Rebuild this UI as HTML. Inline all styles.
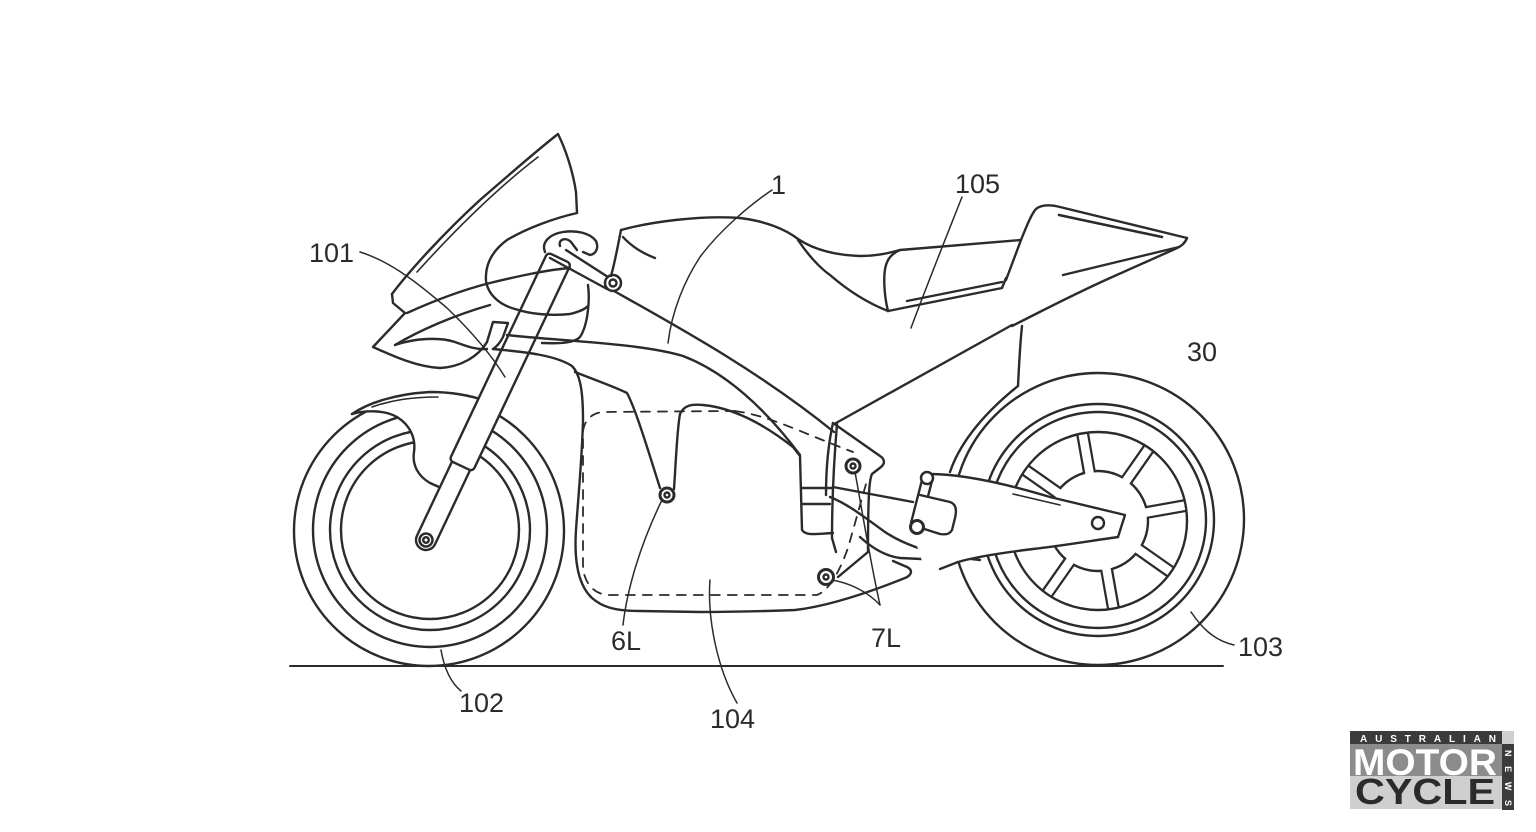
<!DOCTYPE html>
<html><head><meta charset="utf-8"><style>
html,body{margin:0;padding:0;background:#fff;}
svg{display:block;}
text{font-family:"Liberation Sans",sans-serif;}
</style></head><body>
<svg width="1536" height="832" viewBox="0 0 1536 832" xmlns="http://www.w3.org/2000/svg">
<defs><clipPath id="rim"><circle cx="0" cy="0" r="89"/></clipPath></defs>
<rect width="1536" height="832" fill="#fff"/>
<g fill="none" stroke="#2b2b2b" stroke-width="2.4" stroke-linecap="round" stroke-linejoin="round">
<!-- ground -->
<path d="M290,666 L1223,666" stroke-width="2"/>

<!-- rear wheel -->
<circle cx="1098" cy="519" r="146"/>
<circle cx="1098" cy="520" r="116"/>
<circle cx="1098" cy="520" r="108"/>
<g transform="translate(1098,521)">
 <g clip-path="url(#rim)">
  <g stroke-width="13" stroke-linecap="butt">
   <path d="M0,0 L-17.4,-98.5 M0,0 L57.4,-81.9 M0,0 L98.5,-17.4 M0,0 L81.9,57.4 M0,0 L17.4,98.5 M0,0 L-57.4,81.9 M0,0 L-98.5,17.4 M0,0 L-81.9,-57.4"/>
  </g>
  <circle cx="0" cy="0" r="50" fill="#fff"/>
  <g stroke="#fff" stroke-width="8.5" stroke-linecap="butt">
   <path d="M-8.3,-47.3 L-17.4,-98.5 M27.5,-39.3 L57.4,-81.9 M47.3,-8.3 L98.5,-17.4 M39.3,27.5 L81.9,57.4 M8.3,47.3 L17.4,98.5 M-27.5,39.3 L-57.4,81.9 M-47.3,8.3 L-98.5,17.4 M-39.3,-27.5 L-81.9,-57.4"/>
  </g>
 </g>
 <circle cx="0" cy="0" r="89"/>
</g>
<!-- hugger arc -->
<path d="M950,472 C958,448 978,418 1018,386"/>

<!-- front wheel -->
<circle cx="429" cy="531" r="135"/>
<circle cx="430" cy="530" r="117"/>
<circle cx="430" cy="530" r="100"/>
<circle cx="430" cy="530" r="89"/>

<!-- front fender -->
<path d="M352,414 C368,403 395,394 430,392 C455,392 472,396 486,401 L476,440 L462,470 L448,491 L430,483 C418,476 412,465 414,452 C416,438 410,425 397,417 C385,410 365,410 352,414 Z" fill="#fff" stroke="none"/>
<path d="M352,414 C368,403 395,394 430,392 C455,392 472,396 486,401"/>
<path d="M352,414 C365,410 385,410 397,417 C410,425 416,438 414,452 C412,465 418,476 430,483 L448,491"/>
<path d="M372,407 C392,400 412,397 438,397" stroke-width="1.6"/>

<!-- fork -->
<g transform="translate(426,540) rotate(25.3)">
 <rect x="-10" y="-92" width="20" height="102" rx="10" fill="#fff"/>
 <circle cx="0" cy="0" r="6.5" fill="#fff" stroke-width="2.5"/>
 <circle cx="0" cy="0" r="2.8"/>
 <rect x="-13" y="-312" width="26" height="230" rx="4" fill="#fff"/>
</g>

<!-- windscreen & upper fairing -->
<path d="M392,294 C410,270 445,232 480,200 C510,174 535,152 558,134 C566,150 573,172 576,192 L577,213"/>
<path d="M577,213 C555,218 527,228 507,240 C492,251 485,265 486,281 C488,295 500,305 515,309 C530,314 550,316 570,314 C578,312 584,310 588,306"/>
<path d="M417,272 C455,230 495,190 538,157" stroke-width="1.6"/>
<path d="M392,294 L393,303 L405,313"/>
<path d="M405,313 L373,347 C395,357 418,367 440,368 C460,367 478,357 487,342 L493,322 L508,323 L503,337 C500,343 496,347 493,349"/>
<path d="M407,313 C440,298 470,288 490,283 C515,277 545,270 570,268"/>
<path d="M395,345 C420,330 455,315 490,305"/>
<path d="M395,345 C415,338 440,337 455,342 C466,346 476,350 487,349"/>
<path d="M588,285 C590,300 588,325 580,337 C575,342 565,344 542,343"/>

<!-- handlebar clamp -->
<path d="M545,252 C541,242 550,234 563,232 C577,230 590,233 596,241 C599,248 596,254 590,255 L583,252" fill="#fff"/>
<path d="M560,246 C558,239 566,237 571,242 L577,250"/>
<path d="M550,258 L607,289 M566,250 L608,277"/>
<circle cx="613" cy="283" r="8" fill="#fff" stroke-width="2.5"/>
<circle cx="613" cy="283" r="3.5"/>

<!-- fairing side / 104 outline -->
<path d="M493,349 C525,352 555,355 572,366 C580,374 583,390 583,420 C582,460 578,500 576,530 C574,560 578,585 592,598 C602,607 615,611 640,611 L700,612 C740,612 770,611 795,610 C830,606 870,592 905,578 C912,575 913,570 907,567 L893,561"/>
<!-- V line / 6L -->
<path d="M575,372 C595,380 615,387 627,393 C636,410 648,450 660,488"/>
<path d="M674,489 C676,460 677,430 680,414 C684,405 692,404 703,405 C735,408 765,425 793,447 L800,456 L802,530 C806,536 815,534 833,533"/>
<path d="M802,488 L833,488 M802,504 L830,504"/>

<!-- frame -->
<path d="M507,335 C560,341 640,343 683,356 C725,372 765,408 800,455"/>
<path d="M614,291 C680,328 760,372 834,432"/>

<!-- tank & seat -->
<path d="M621,230 C618,245 615,262 611,276"/>
<path d="M621,230 C650,222 700,215 740,218 C765,221 785,229 798,239"/>
<path d="M623,237 C632,247 642,253 655,258"/>
<path d="M798,239 C810,247 830,255 860,256 C880,256 892,252 900,250 L1021,240"/>
<path d="M798,240 C808,255 820,268 830,275 C845,288 865,302 888,311"/>
<path d="M888,311 C884,295 883,275 886,265 C888,258 893,253 900,250"/>
<path d="M888,311 L1002,288 L1006,278"/>
<path d="M907,301 L1002,282"/>
<!-- tail -->
<path d="M1006,280 L1021,240 C1027,225 1032,213 1036,209 C1042,204 1052,205 1060,207 L1187,238"/>
<path d="M1059,215 L1162,237" stroke-width="2.6"/>
<path d="M1187,238 C1185,243 1182,246 1175,249 L1110,278 C1070,296 1040,312 1012,326"/>
<path d="M1063,275 L1179,247"/>
<path d="M1022,326 C1020,345 1019,365 1018,386"/>
<path d="M836,423 L1012,325"/>

<!-- battery dashed -->
<path d="M735,411 L603,412 C592,413 584,420 583,432 L583,565 C583,580 592,594 608,595 L817,595 C830,590 840,570 848,548 L866,484" stroke-dasharray="9 8" stroke-width="1.8"/>
<path d="M735,411 C770,416 795,430 853,452" stroke-dasharray="9 8" stroke-width="1.8"/>

<!-- bracket 7L -->
<path d="M833,423 L880,456 C885,459 885,464 881,467 L872,474 C869,480 868,500 868,552 L838,577"/>
<path d="M833,423 C828,445 826,470 826,495"/>
<path d="M837,424 C834,460 832,500 832,538 L836,552"/>
<path d="M833,487 L913,502"/>
<path d="M830,497 C850,505 868,520 885,532 C900,542 920,550 947,556 L980,560"/>
<path d="M860,537 C872,548 885,556 900,558 L943,560"/>

<!-- swingarm -->
<path d="M928,472 C960,474 1000,482 1050,497 L1125,515 L1118,537 C1090,541 1060,546 1033,549 C1000,553 975,557 958,562 L925,570 L915,540 Z" fill="#fff" stroke="none"/>
<path d="M930,474 C960,474 1000,482 1050,497 L1125,515 L1118,537 C1090,541 1060,546 1033,549 C1000,553 975,557 958,562 L940,569"/>
<path d="M1013,494 L1060,505" stroke-width="1.6"/>
<circle cx="1098" cy="523" r="6"/>

<!-- shock link -->
<path d="M922,480 L911,523 M932,481 L921,523"/>
<path d="M920,495 L950,502 C956,504 957,510 955,518 L952,530 C950,534 946,535 940,534 L918,527" fill="#fff"/>
<circle cx="927" cy="478" r="6" fill="#fff" stroke-width="2.5"/>
<circle cx="917" cy="527" r="6.5" fill="#fff" stroke-width="3"/>

<!-- balls -->
<circle cx="667" cy="495" r="7" fill="#fff" stroke-width="3"/>
<circle cx="667" cy="495" r="2.5"/>
<circle cx="853" cy="466" r="7" fill="#fff" stroke-width="3"/>
<circle cx="853" cy="466" r="2.5"/>
<circle cx="826" cy="577" r="7.5" fill="#fff" stroke-width="3"/>
<circle cx="826" cy="577" r="2.5"/>

<!-- leaders -->
<g stroke-width="1.5">
<path d="M360,252 C392,262 420,285 447,308 C472,332 492,356 505,377"/>
<path d="M772,190 C750,205 720,230 700,257 C685,280 672,310 668,343"/>
<path d="M962,197 C945,240 925,290 911,328"/>
<path d="M623,625 C627,590 640,545 662,500"/>
<path d="M710,580 C707,620 718,670 737,703"/>
<path d="M880,605 C870,560 862,510 855,472"/>
<path d="M880,605 C868,592 850,583 832,580"/>
<path d="M441,650 C444,667 450,682 461,691"/>
<path d="M1191,612 C1200,625 1212,640 1234,645"/>
</g>
</g>

<!-- labels -->
<g fill="#2b2b2b" font-size="27">
<text x="771" y="194">1</text>
<text x="955" y="193">105</text>
<text x="309" y="262">101</text>
<text x="1187" y="361">30</text>
<text x="611" y="650">6L</text>
<text x="871" y="647">7L</text>
<text x="459" y="712">102</text>
<text x="710" y="728">104</text>
<text x="1238" y="656">103</text>
</g>

<!-- logo -->
<g>
<rect x="1350" y="731" width="153" height="13" fill="#3b3b3b"/>
<rect x="1350" y="744" width="152" height="32" fill="#8c8c8c"/>
<rect x="1350" y="776" width="152" height="33" fill="#cfcfcf"/>
<rect x="1502" y="731" width="12" height="13" fill="#cfcfcf"/>
<rect x="1502" y="744" width="12" height="66" fill="#3b3b3b"/>
<text x="1360" y="742" font-size="10" font-weight="bold" fill="#fff" textLength="136" lengthAdjust="spacing">AUSTRALIAN</text>
<text x="1353" y="775" font-size="37" font-weight="bold" fill="#fff" textLength="144" lengthAdjust="spacingAndGlyphs">MOTOR</text>
<text x="1355" y="804" font-size="36" font-weight="bold" fill="#2b2b2b" textLength="140" lengthAdjust="spacingAndGlyphs">CYCLE</text>
<text transform="translate(1505,750) rotate(90)" font-size="9" font-weight="bold" fill="#fff" textLength="56" lengthAdjust="spacing">NEWS</text>
</g>
</svg>
</body></html>
